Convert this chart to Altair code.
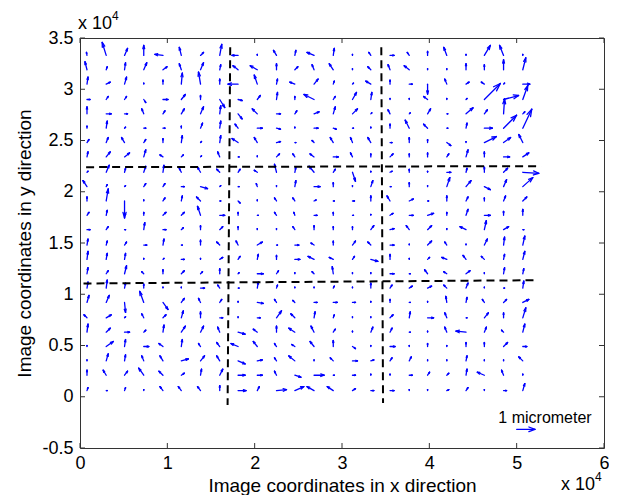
import altair as alt
import pandas as pd

# ---- grid of measurement positions (x 10^4 image units) ----
X_COLS = [0.08, 0.30, 0.51, 0.73, 0.95, 1.16, 1.38, 1.60, 1.81, 2.03, 2.25, 2.46,
          2.68, 2.90, 3.12, 3.33, 3.55, 3.77, 3.98, 4.20, 4.42, 4.63, 4.85, 5.07]
Y_ROWS = [3.33, 3.19, 3.05, 2.90, 2.76, 2.62, 2.48, 2.34, 2.19, 2.05, 1.91, 1.77,
          1.63, 1.48, 1.34, 1.20, 1.06, 0.92, 0.77, 0.63, 0.49, 0.35, 0.21, 0.06]

# ---- displacement components (rows top -> bottom) ----
U = [
    [-0.5, -4, 3, 0, -8, -2, 3, 2, -6, 0, -3, 1, -7, 1, 0, -2, 4, -2, 0, -3, 0, 6, -4, 0],
    [-2, 1, 1, 3, 4, -2, 3, 1, -5, -7, 0, 3, -2, -4, 0, -3, -2, -5, 0, 0, 0, 0, 0, 3],
    [1, 4, 2, 0, 0, 1, -2, 0, -10, -3, 1, -5, 4, 1, 1, -5, 0, 3, 0, -2, 3, -3, 1, 7],
    [3, 2, 2, 2, 5, 4, 0, 5, 4, 3, 1, 0, -10, 2, 4, 1, 0, 0, -4, 0, 1, 16, 15, 5],
    [0, 5, 3, -2, 2, 3, 3, 1, 4, -5, 4, 2, 5, 2, 5, 1, -2, 1, 3, 1, 7, 3, 1, 2],
    [0, 1, 1, 2, 2, 0, 2, 1, -3, 5, 4, 0, 4, 3, 1, 0, 0, -4, -4, 1, 1, 8, 13, 9],
    [2, 2, -3, 2, 0, 1, 1, 1, -6, -3, 4, 1, -2, -3, -2, -3, 2, 0, 0, 4, 0, 12, 7, -4],
    [1, 4, 5, 2, -3, 2, 1, -2, 1, 0, 3, -2, -4, 5, -2, 0, 3, 0, 0, 2, 2, 0, 6, 6],
    [1, 3, 1, 2, 1, -2, -3, -3, 2, -3, -2, 1, -5, 2, 3, 0, 2, 0, 0, 4, 1, 0, 4, 16],
    [-4, 1, 1, 2, 2, 3, 7, 1, 1, -1, 0, 1, 6, 0, 0, 2, 1, 0, 0, 3, 5, 6, 3, 10],
    [0, 2, 0, 0, 2, 1, -4, 1, 2, 0, -2, -2, 2, 1, 2, 0, -3, 4, 1, 0, 2, 0, 2, 4],
    [2, 1, 1, 0, 3, 3, -3, 5, 0, 1, -2, -1, 3, 0, 1, 0, 3, 4, 6, 0, 2, 6, 0, 0],
    [3, 2, 1, 1, 3, 2, 0, 3, 0, 0, 0, -2, 0, 0, 0, 3, 4, -3, 4, 0, -6, 2, 5, 1],
    [1, 1, 2, 3, 1, 1, 0, -3, -2, 5, 1, 4, -3, 0, 3, -3, 4, 0, 4, -2, 0, 3, 1, 2],
    [1, 1, 1, 0, 1, 3, 0, 3, 2, 1, 0, 5, -6, -4, 2, 7, 0, 0, 2, -5, -3, -3, 1, 2],
    [1, 2, 2, -2, 0, 3, 2, 0, 1, 6, 2, 0, -2, -1, 0, 0, 4, 1, -3, -3, 4, 0, 1, 1],
    [1, 1, 1, 0, 0, 0, 4, -2, 1, 1, 1, 0, 0, 1, 0, 0, 2, 3, 4, -3, 2, 0, 1, 1],
    [2, 3, 1, -4, 5, 3, -2, 2, 0, 6, -2, -2, 3, 4, 3, 0, 0, 1, 0, -1, 1, -2, 3, 6],
    [-3, 5, 1, -2, 3, 2, 0, 3, 0, 3, 5, -4, 1, 1, 0, 0, 3, 1, 6, -2, 1, 4, 0, 3],
    [1, 4, 5, 2, 1, 4, 3, -2, 7, -4, 0, -6, -3, 2, 0, 2, 2, 1, 0, -2, -10, 2, -2, 2],
    [0, 7, 1, 5, -4, 1, -2, -3, -7, -4, -2, -3, -4, 0, 3, 0, 5, 0, 0, 0, 0, 0, 4, 4],
    [0, 2, 1, -2, -3, 7, 4, -3, 7, 5, -2, -6, 0, -3, 5, 3, 2, 2, 0, 0, 1, 0, 0, -4],
    [0, -3, 3, -5, -4, 3, 1, 3, 7, 5, -2, 6, 10, 1, 3, 0, 0, 3, 2, 2, 1, -7, -2, 0],
    [1, 1, 1, 0, -3, -3, -3, 0, 8, 2, 10, 9, -7, -6, 3, 3, 4, 0, 0, 2, 2, 0, 3, 2],
]
V = [
    [3, 13, 7, 10, 1, 8, 3, 11, 0, 1, 5, 5, 3, 7, 1, 3, 0, 3, 4, 8, 1, 10, 10, 1],
    [8, 3, 7, 7, 3, 6, 7, 5, 4, 4, 6, 3, 5, 6, 1, 3, 5, 4, 1, 1, 6, 5, 10, 12],
    [7, 2, 7, 1, 4, 11, 12, 5, 0, 9, 5, 2, 5, 3, 1, 3, 4, 0, -10, 5, 2, 2, 1, 0],
    [0, 3, 3, -3, 0, 5, 4, -8, -1, 4, 7, 3, 5, 3, 7, 7, 1, 1, 3, 1, 1, 16, 4, 14],
    [7, 0, 0, 5, 3, 5, 7, 8, -5, 5, 0, 3, 2, 7, 5, 1, 4, 1, 5, 0, 6, 4, 15, 2],
    [2, 7, 1, 0, 0, 2, 5, 7, 4, 0, -1, 1, 0, -1, 0, 1, 4, 8, 4, 0, 5, 0, 13, 19],
    [3, 5, 5, 3, 4, 7, 1, 7, 4, 5, 1, 0, 2, 5, 5, 5, 0, 5, 3, -3, 1, 6, 5, 8],
    [5, 5, 4, 7, 2, 2, 1, 5, 0, 1, 3, 3, 3, 0, 4, 3, 3, 3, 4, 3, 7, 5, 0, 4],
    [1, 7, 4, 6, 7, 4, 5, 3, 3, 2, 8, 5, 6, 3, -9, 1, 1, 3, 1, 0, 4, 5, 4, -1],
    [6, 2, 1, 3, 3, 0, -2, 1, 0, 3, 1, 6, 0, 4, 1, 6, 0, 4, 1, 9, 6, -3, 7, 9],
    [4, 12, -17, 1, 3, 5, 4, 0, -2, 1, 3, 3, 1, 0, 0, 5, 5, 2, 0, 5, 4, 3, 5, 4],
    [3, 5, 1, 3, 3, 3, 9, 0, 3, 0, 3, 3, 0, 3, 0, 1, 2, 0, 2, 3, 6, 0, 4, 6],
    [0, 3, 0, 7, 0, 2, 4, 3, 3, 1, 1, 3, 4, 3, 3, 4, 1, 4, 4, 1, 3, 9, 3, 0],
    [6, 4, 3, 0, 6, 0, 5, 3, 4, 3, 0, 0, 2, 4, 4, 3, 0, 1, 4, 3, 1, 6, 8, 9],
    [8, 6, 6, 1, 1, 0, 1, 2, 3, 5, 4, 0, 3, 2, 3, -2, 5, 1, 2, 2, 4, 3, 5, 8],
    [6, 3, 8, 2, 4, 3, 2, 5, 1, 0, 3, 1, 2, 7, 1, 1, 0, 0, 4, 2, 3, 1, 6, 5],
    [6, 8, 5, 4, 1, 1, 0, 3, 0, 6, 3, 1, 1, 2, 1, 5, 3, 2, 2, 3, 5, 1, 0, 7],
    [7, 7, -10, 11, -7, 4, 4, 3, 1, -1, 3, 2, 0, 0, 0, 1, 3, 0, 1, 6, 5, 3, 3, 3],
    [3, 3, 1, 4, 3, 7, 6, 0, 1, 0, 7, 4, 6, 3, 1, 1, 3, 6, 0, 5, 0, 5, 5, 10],
    [8, 4, 0, 2, 7, 6, 6, 5, -2, 3, 6, 4, 6, 3, 1, 5, 4, 0, 1, 5, 1, 5, 2, 8],
    [1, 5, 7, 0, 3, 7, 3, 4, 3, 5, 3, 2, 5, 6, -2, 1, 0, 1, 3, 1, 4, 4, 4, 0],
    [1, 7, 6, 5, 5, 2, 5, 5, -3, 1, 3, 5, 1, 3, 0, 1, 3, 4, 1, 1, 5, 1, 1, 4],
    [5, 5, 4, 7, 4, 2, 6, 6, 0, 0, 4, -2, 0, 0, 0, 1, 1, 0, 3, 2, 6, 3, 5, 1],
    [3, 0, 3, 1, 4, 4, 4, 5, 0, 4, 1, 4, 4, 4, 2, 0, 0, 1, 1, 1, 3, 1, 0, 7],
]
# scale arrow: 1 micrometer
SCALE_POS = [5.0, -0.318]
SCALE_UV = [18.3, 0.0]
SCALE_TEXT = "1 micrometer"
SCALE_TEXT_POS = [4.79, -0.259]

# dashed grid lines (start x, start y, end x, end y)
DASH_X1 = [1.72, 3.45, 0.07, 0.04]
DASH_Y1 = [3.41, 3.41, 2.24, 1.105]
DASH_X2 = [1.69, 3.47, 5.28, 5.23]
DASH_Y2 = [-0.08, -0.06, 2.25, 1.137]

X_TICKS = [0, 1, 2, 3, 4, 5, 6]
Y_TICKS = [-0.5, 0, 0.5, 1, 1.5, 2, 2.5, 3, 3.5]

# ---- quiver geometry (MATLAB-style arrowheads) ----
KX, KY = 1 / 87.4, 1 / 102.6
ALPHA, BETA = 0.33, 0.33


def arrow(x, y, u, v, segs):
    tx, ty = x + u, y + v
    segs.append((x, y, tx, ty))
    segs.append((tx - ALPHA * (u + BETA * v), ty - ALPHA * (v - BETA * u), tx, ty))
    segs.append((tx - ALPHA * (u - BETA * v), ty - ALPHA * (v + BETA * u), tx, ty))


segs = []
for r, yv in enumerate(Y_ROWS):
    for c, xv in enumerate(X_COLS):
        arrow(xv, yv, U[r][c] * KX, V[r][c] * KY, segs)
arrow(SCALE_POS[0], SCALE_POS[1], SCALE_UV[0] * KX, SCALE_UV[1] * KY, segs)
arr_df = pd.DataFrame(segs, columns=["x", "y", "x2", "y2"])

dash_df = pd.DataFrame({"x": DASH_X1, "y": DASH_Y1, "x2": DASH_X2, "y2": DASH_Y2})

W, H = 524, 410
FONT = "Liberation Sans"
xs = alt.Scale(domain=[0, 6], nice=False, zero=False)
ys = alt.Scale(domain=[-0.5, 3.5], nice=False, zero=False)

XTITLE = "Image coordinates in x direction"
YTITLE = "Image coordinates in y direction"
xaxis = alt.Axis(values=X_TICKS, labelExpr="toString(datum.value)", title=XTITLE,
                 grid=False, domain=False, ticks=False, tickSize=0, labelPadding=6, titlePadding=4,
                 labelFontSize=18, titleFontSize=19, labelFont=FONT, titleFont=FONT,
                 titleFontWeight="normal", labelColor="black", titleColor="black", labelFlush=False)
yaxis = alt.Axis(values=Y_TICKS, labelExpr="toString(datum.value)", title=YTITLE,
                 grid=False, domain=False, ticks=False, tickSize=0, labelPadding=7, titlePadding=7,
                 labelFontSize=18, titleFontSize=19, labelFont=FONT, titleFont=FONT,
                 titleFontWeight="normal", labelColor="black", titleColor="black", labelFlush=False)


def X(field):
    return alt.X(field, scale=xs, axis=xaxis, title=XTITLE)


def Y(field):
    return alt.Y(field, scale=ys, axis=yaxis, title=YTITLE)


arrows = alt.Chart(arr_df).mark_rule(color="#0000ff", strokeWidth=1.3, strokeCap="round").encode(
    x=X("x:Q"), y=Y("y:Q"), x2="x2:Q", y2="y2:Q")

dashes = alt.Chart(dash_df).mark_rule(color="black", strokeWidth=2, strokeDash=[8, 5]).encode(
    x=X("x:Q"), y=Y("y:Q"), x2="x2:Q", y2="y2:Q")

label_df = pd.DataFrame({"x": [SCALE_TEXT_POS[0]], "y": [SCALE_TEXT_POS[1]], "t": [SCALE_TEXT]})
label = alt.Chart(label_df).mark_text(align="left", baseline="alphabetic", fontSize=16, font=FONT,
                                      color="black").encode(x=X("x:Q"), y=Y("y:Q"), text="t:N")

TICK = 5
xt_df = pd.DataFrame({"v": X_TICKS})
yt_df = pd.DataFrame({"v": Y_TICKS})
tick_col = "#333333"
xt_bot = alt.Chart(xt_df).mark_rule(color=tick_col, strokeWidth=1).encode(
    x=X("v:Q"), y=alt.value(H), y2=alt.value(H - TICK))
xt_top = alt.Chart(xt_df).mark_rule(color=tick_col, strokeWidth=1).encode(
    x=X("v:Q"), y=alt.value(0), y2=alt.value(TICK))
yt_left = alt.Chart(yt_df).mark_rule(color=tick_col, strokeWidth=1).encode(
    y=Y("v:Q"), x=alt.value(0), x2=alt.value(TICK))
yt_right = alt.Chart(yt_df).mark_rule(color=tick_col, strokeWidth=1).encode(
    y=Y("v:Q"), x=alt.value(W), x2=alt.value(W - TICK))

exp_df = pd.DataFrame({"t": ["x 10"], "s": ["4"]})
exp_tl = alt.Chart(exp_df).mark_text(align="left", baseline="alphabetic", fontSize=18, font=FONT,
                                     color="black").encode(text="t:N", x=alt.value(-2), y=alt.value(-9))
exp_tl4 = alt.Chart(exp_df).mark_text(align="left", baseline="alphabetic", fontSize=12, font=FONT,
                                      color="black").encode(text="s:N", x=alt.value(32), y=alt.value(-18))
exp_br = alt.Chart(exp_df).mark_text(align="left", baseline="alphabetic", fontSize=18, font=FONT,
                                     color="black").encode(text="t:N", x=alt.value(481), y=alt.value(452))
exp_br4 = alt.Chart(exp_df).mark_text(align="left", baseline="alphabetic", fontSize=12, font=FONT,
                                      color="black").encode(text="s:N", x=alt.value(515), y=alt.value(443))

chart = alt.layer(arrows, dashes, label, xt_bot, xt_top, yt_left, yt_right,
                  exp_tl, exp_tl4, exp_br, exp_br4).properties(
    width=W, height=H,
    autosize=alt.AutoSizeParams(type="none"),
    padding={"left": 72, "top": 30, "right": 5, "bottom": 47},
    background="white",
).configure_view(stroke="#333333", strokeWidth=1)

chart.save("out.html", embed_options={"renderer": "svg", "actions": False})
